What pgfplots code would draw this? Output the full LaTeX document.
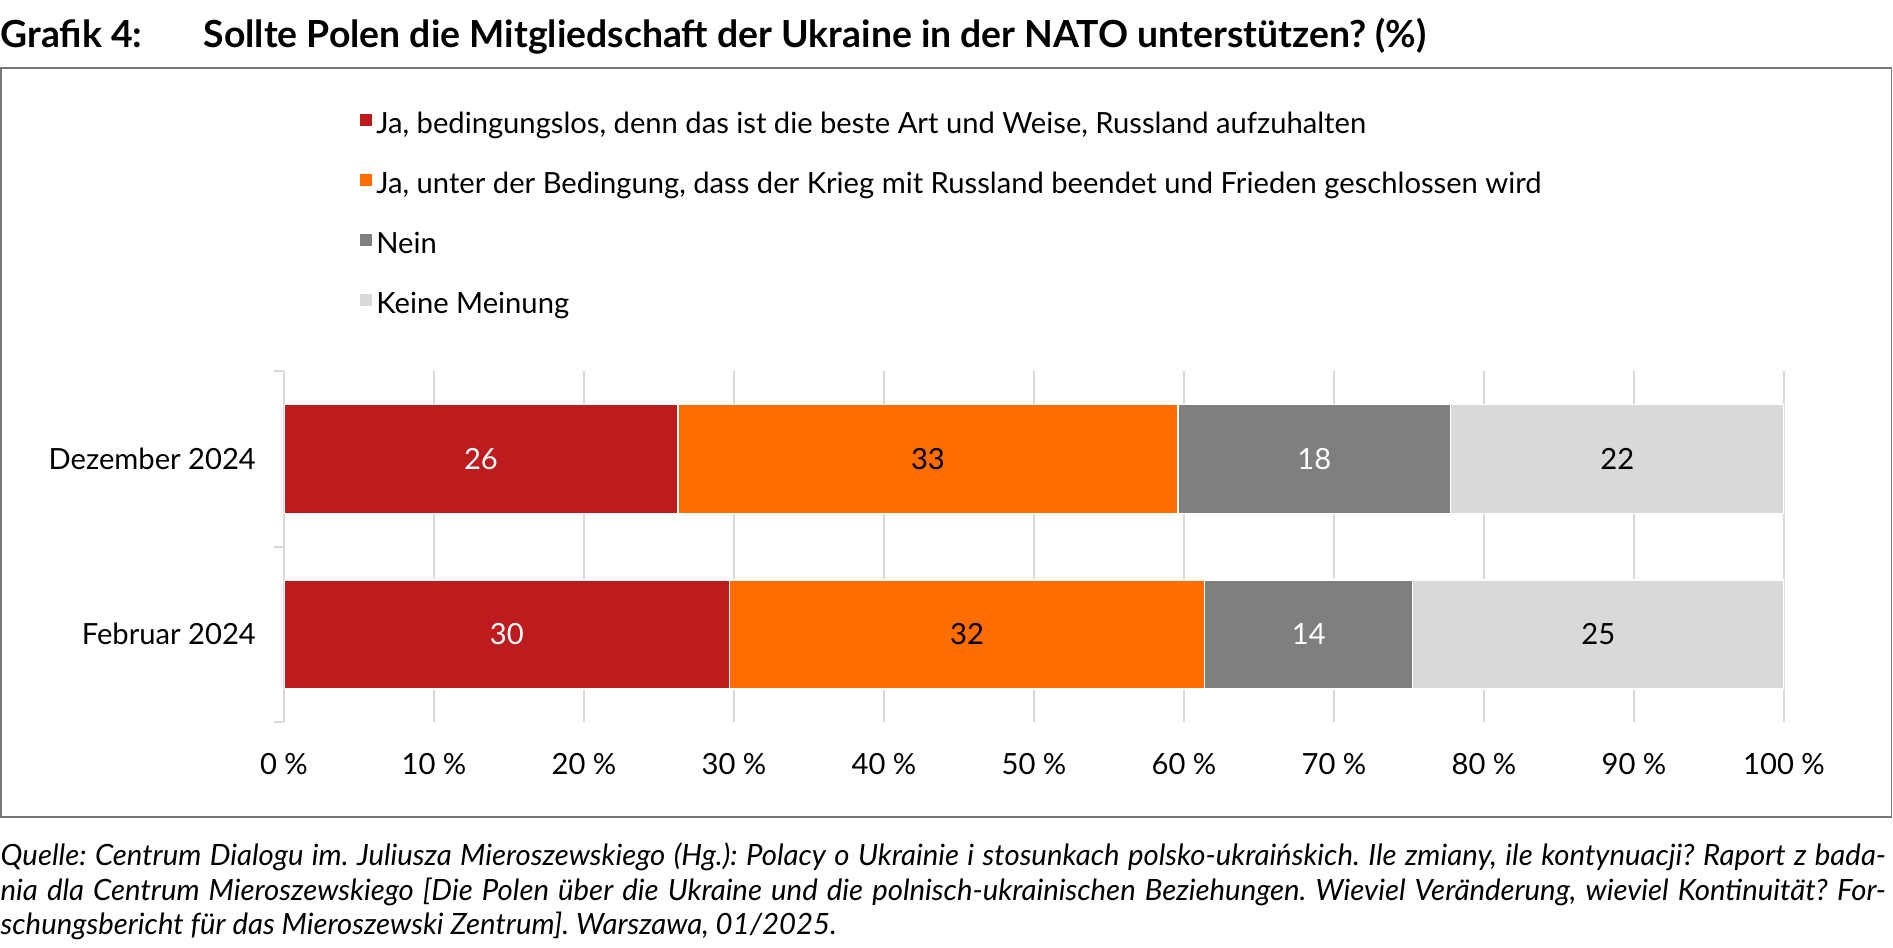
\documentclass[border=0pt]{standalone}
\usepackage{fontspec}
\setmainfont{Lato}
\usepackage{pgfplots}
\pgfplotsset{compat=1.18}
\usepackage{pgfplotstable}
\definecolor{cred}{HTML}{BE1B1E}
\definecolor{corange}{HTML}{FF6C00}
\definecolor{cgray}{HTML}{7F7F7F}
\definecolor{clight}{HTML}{D9D9D9}
\definecolor{cgrid}{HTML}{D9D9D9}
\definecolor{cframe}{HTML}{767676}
\frenchspacing

% shares normalised to 100 (raw answers: Dez 26/33/18/22, Feb 30/32/14/25)
\pgfplotstableread{
y  a      b      c      d
0  29.70  31.68  13.86  24.75
1  26.26  33.33  18.18  22.22
}\bars
\pgfplotstableread{
x      y  lab
13.13  1  26
68.69  1  18
14.85  0  30
68.32  0  14
}\whitelabels
\pgfplotstableread{
x      y  lab
42.93  1  33
88.89  1  22
45.54  0  32
87.62  0  25
}\blacklabels

\newcommand\lfont{\fontsize{8.75}{10.5}\selectfont}
\newcommand\ffont{\fontsize{8.8}{10.5}\selectfont\itshape}

\begin{document}
\begin{tikzpicture}
\useasboundingbox (0,0) rectangle (567.9pt,-284.1pt);
\node[anchor=base west, inner sep=0pt, font=\fontsize{11.2}{13}\selectfont\bfseries] at (0pt,-14.2pt) {Grafik 4:};
\node[anchor=base west, inner sep=0pt, font=\fontsize{11.2}{13}\selectfont\bfseries] at (60.9pt,-14.2pt) {Sollte Polen die Mitgliedschaft der Ukraine in der NATO unterstützen? (\%)};
\draw[cframe, line width=0.45pt] (0.25pt,-20.4pt) rectangle (567.4pt,-245.1pt);
\begin{axis}[
  at={(85.2pt,-216.6pt)}, anchor=south west,
  scale only axis, width=450pt, height=105.3pt,
  xbar stacked, bar width=32.7pt,
  xmin=0, xmax=100, ymin=-0.5, ymax=1.5,
  axis lines*=left,
  x axis line style={draw=none},
  y axis line style={draw=cgrid, line width=0.6pt, -},
  xtick={0,10,...,100},
  xticklabels={0 \%,10 \%,20 \%,30 \%,40 \%,50 \%,60 \%,70 \%,80 \%,90 \%,100 \%},
  ytick={0,1}, yticklabels={Februar 2024, Dezember 2024},
  minor ytick={-0.5,0.5,1.5},
  tick align=outside, major tick length=0pt, minor tick length=3pt,
  minor tick style={draw=cgrid, line width=0.6pt},
  xmajorgrids, major x grid style={draw=cgrid, line width=0.4pt},
  tick label style={font=\lfont},
  xticklabel style={yshift=-6pt},
  yticklabel style={xshift=-4.9pt},
  legend cell align=left,
  legend style={at={(axis description cs:0.0507,1.444)}, anchor=west,
    draw=none, fill=none, inner sep=0pt, outer sep=0pt, font=\lfont,
    row sep=6.1pt, column sep=-0.7pt},
  legend image code/.code={\fill[#1, draw=none] (0pt,-0.3pt) rectangle (3.6pt,3.3pt);},
]
\addplot[fill=cred, draw=white, line width=0.45pt] table[x=a, y=y] {\bars};
\addlegendentry{Ja, bedingungslos, denn das ist die beste Art und Weise, Russland aufzuhalten}
\addplot[fill=corange, draw=white, line width=0.45pt] table[x=b, y=y] {\bars};
\addlegendentry{Ja, unter der Bedingung, dass der Krieg mit Russland beendet und Frieden geschlossen wird}
\addplot[fill=cgray, draw=white, line width=0.45pt] table[x=c, y=y] {\bars};
\addlegendentry{Nein}
\addplot[fill=clight, draw=white, line width=0.45pt] table[x=d, y=y] {\bars};
\addlegendentry{Keine Meinung}
\end{axis}
\begin{axis}[
  at={(85.2pt,-216.6pt)}, anchor=south west,
  scale only axis, width=450pt, height=105.3pt,
  xmin=0, xmax=100, ymin=-0.5, ymax=1.5, hide axis, clip=false,
]
\addplot[only marks, mark=*, mark size=0pt, mark options={draw=none, fill=none},
  nodes near coords, point meta=explicit symbolic,
  nodes near coords style={anchor=center, text=white, font=\lfont}]
  table[x=x, y=y, meta=lab] {\whitelabels};
\addplot[only marks, mark=*, mark size=0pt, mark options={draw=none, fill=none},
  nodes near coords, point meta=explicit symbolic,
  nodes near coords style={anchor=center, text=black, font=\lfont}]
  table[x=x, y=y, meta=lab] {\blacklabels};
\end{axis}
\node[anchor=base west, inner sep=0pt, font=\ffont] at (0pt,-259.7pt)
  {\makebox[565.5pt][s]{Quelle: Centrum Dialogu im. Juliusza Mieroszewskiego (Hg.): Polacy o Ukrainie i stosunkach polsko-ukraińskich. Ile zmiany, ile kontynuacji? Raport z bada-}};
\node[anchor=base west, inner sep=0pt, font=\ffont] at (0pt,-270.2pt)
  {\makebox[565.5pt][s]{nia dla Centrum Mieroszewskiego [Die Polen über die Ukraine und die polnisch-ukrainischen Beziehungen. Wieviel Veränderung, wieviel Kontinuität? For-}};
\node[anchor=base west, inner sep=0pt, font=\ffont] at (0pt,-280.4pt)
  {schungsbericht für das Mieroszewski Zentrum]. Warszawa, 01/2025.};
\end{tikzpicture}
\end{document}
